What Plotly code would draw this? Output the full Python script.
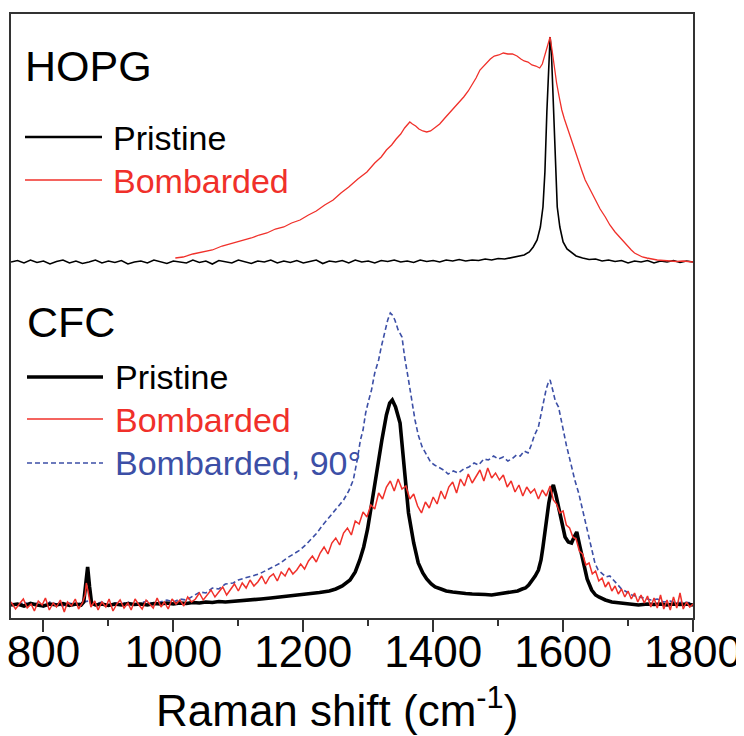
import plotly.graph_objects as go

# ---------------- data ----------------
# wavenumber (cm^-1), intensity (a.u., baseline ~0)
HOPG_PRISTINE = [
    (750, 0), (760, 1.5), (770, -1), (780, 2), (790, -0.5), (800, 1), (810, -2), (820, 0.5), (830, 2), (840, -1),
    (850, 1), (860, -1.5), (870, 0), (880, 2), (890, -1), (900, 1), (910, -0.5), (920, 1.5), (930, -2), (940, 0),
    (950, 1), (960, -1), (970, 2), (980, 0), (990, -1.5), (1000, 1), (1010, 0), (1020, -1), (1030, 2), (1040, -0.5),
    (1050, 1), (1060, -2), (1070, 1.5), (1080, 0), (1090, -1), (1100, 2), (1110, 0.5), (1120, -1.5), (1130, 1), (1140, 0),
    (1150, 2), (1160, -1), (1170, 1), (1180, -0.5), (1190, 1.5), (1200, -1), (1210, 0.5), (1220, 2), (1230, -1.5), (1240, 1),
    (1250, 0), (1260, 1.5), (1270, -1), (1280, 2), (1290, 0), (1300, 1), (1310, -1), (1320, 1.5), (1330, 0.5), (1340, 2),
    (1350, 0), (1360, 1), (1370, -0.5), (1380, 2), (1390, 0.5), (1400, 1.5), (1410, 0), (1420, 2), (1430, 1), (1440, 2.5),
    (1450, 1), (1460, 2), (1470, 1.5), (1480, 3), (1490, 2), (1500, 3.5), (1510, 3), (1520, 4.5), (1530, 5.5), (1540, 7),
    (1548, 10), (1554, 15), (1560, 22), (1565, 35), (1569, 55), (1572, 90), (1575, 150), (1578, 205), (1580, 225), (1582, 210),
    (1585, 160), (1588, 95), (1591, 55), (1595, 35), (1600, 20), (1606, 13), (1612, 10), (1620, 6), (1630, 4), (1640, 2.5),
    (1650, 3), (1660, 1), (1670, 2), (1680, 0.5), (1690, 1.5), (1700, -1), (1710, 1), (1720, 0), (1730, 1.5), (1740, -1),
    (1750, 1), (1760, 0), (1770, 1.5), (1780, -0.5), (1790, 1), (1800, 0),
]

HOPG_BOMBARDED = [
    (1003, 4), (1015, 5), (1030, 8), (1045, 10), (1060, 12), (1075, 16), (1092, 19), (1105, 21), (1120, 24), (1132, 27),
    (1144, 29), (1157, 33), (1170, 35), (1182, 39), (1195, 42), (1208, 47), (1220, 51), (1233, 57), (1246, 62), (1258, 69),
    (1270, 75), (1284, 83), (1298, 90), (1310, 99), (1320, 105), (1328, 112), (1336, 117), (1343, 123), (1350, 128), (1356, 134),
    (1360, 137), (1364, 140), (1368, 138), (1373, 136), (1378, 133), (1384, 131), (1390, 130), (1396, 131), (1402, 134), (1410, 138),
    (1418, 144), (1425, 149), (1433, 155), (1440, 160), (1447, 165), (1454, 171), (1460, 177), (1466, 184), (1472, 192), (1478, 196),
    (1483, 200), (1488, 203), (1494, 206), (1501, 207), (1508, 209), (1515, 208), (1522, 208), (1529, 206), (1535, 203), (1540, 201),
    (1546, 200), (1552, 197), (1558, 196), (1564, 194), (1568, 198), (1572, 207), (1576, 218), (1580, 225), (1583, 212), (1587, 192),
    (1590, 179), (1594, 165), (1598, 152), (1602, 143), (1606, 135), (1610, 127), (1614, 119), (1619, 110), (1624, 100), (1629, 91),
    (1634, 82), (1642, 72), (1650, 62), (1657, 53), (1665, 45), (1672, 37), (1680, 30), (1688, 24), (1695, 19), (1700, 15),
    (1705, 12), (1710, 9), (1716, 7), (1722, 5), (1729, 4), (1736, 3), (1745, 2), (1755, 1.5), (1765, 1), (1775, 0.5),
    (1785, 1), (1800, 0),
]

CFC_PRISTINE = [
    (750, 0), (760, 1), (770, -1), (780, 1.5), (790, 0), (800, -1), (810, 1), (820, 0), (830, 1.5), (840, -0.5),
    (850, 1), (858, 0), (862, 3), (865, 20), (868, 38), (871, 18), (874, 2), (880, 0), (890, 1), (900, -0.5),
    (910, 1), (920, 0), (930, 1.5), (940, 0.5), (950, 1), (960, 0), (970, 1.5), (980, 1), (990, 2), (1000, 1),
    (1010, 2), (1020, 1.5), (1030, 2.5), (1040, 2), (1050, 3), (1060, 2.5), (1070, 3.5), (1080, 3), (1092, 3.5), (1105, 4.5),
    (1120, 5), (1135, 6), (1150, 7), (1165, 8), (1180, 9), (1195, 10), (1210, 11), (1225, 12.5), (1240, 14), (1250, 16),
    (1260, 19), (1272, 25), (1280, 33), (1287, 45), (1293, 58), (1299, 76), (1305, 100), (1313, 135), (1321, 165), (1328, 190),
    (1333, 202), (1337, 205), (1342, 198), (1349, 182), (1355, 140), (1362, 92), (1370, 62), (1377, 42), (1384, 32), (1390, 26),
    (1397, 21), (1403, 18), (1412, 16), (1420, 14), (1430, 13), (1439, 12), (1450, 11.5), (1460, 11), (1470, 11), (1480, 10.5),
    (1490, 10), (1500, 11), (1511, 12), (1520, 13), (1530, 14), (1537, 16), (1542, 17), (1547, 20), (1552, 24), (1557, 29),
    (1562, 35), (1566, 45), (1569, 58), (1572, 75), (1575, 90), (1578, 102), (1582, 115), (1585, 120), (1589, 110), (1593, 98),
    (1598, 80), (1603, 68), (1608, 63), (1613, 62), (1617, 68), (1621, 73), (1626, 58), (1631, 42), (1637, 26), (1644, 15),
    (1650, 10), (1655, 8), (1665, 5), (1675, 3), (1690, 2), (1700, 1.5), (1716, 0), (1730, 1), (1740, 0.5), (1750, 1),
    (1760, 0), (1770, 1), (1780, 0.5), (1790, 1), (1800, 0),
]

CFC_BOMBARDED = [
    (750, 3), (757, -4), (764, 2), (769, 6), (775, -3), (781, 1), (786, -6), (792, 4), (798, 0), (803, 7),
    (809, -5), (815, 2), (820, -2), (826, 5), (832, -7), (837, 3), (843, -1), (849, 6), (854, -4), (860, 2),
    (864, 10), (866, 22), (869, 12), (873, -2), (879, 4), (884, -5), (890, 3), (896, -2), (901, 6), (907, -6),
    (913, 1), (918, 5), (924, -3), (930, 2), (935, -5), (941, 6), (947, 0), (952, -4), (958, 5), (964, 1),
    (969, -3), (975, 7), (981, -2), (986, 3), (992, -4), (998, 6), (1004, 1), (1010, 5), (1016, -1), (1022, 8),
    (1028, 3), (1034, 6), (1040, 12), (1046, 5), (1052, 10), (1058, 15), (1064, 8), (1070, 13), (1076, 18), (1082, 10),
    (1088, 16), (1094, 21), (1100, 14), (1106, 22), (1112, 17), (1118, 25), (1124, 19), (1130, 23), (1136, 29), (1142, 21),
    (1148, 28), (1154, 31), (1160, 24), (1166, 33), (1172, 29), (1178, 37), (1184, 31), (1190, 35), (1196, 41), (1202, 36),
    (1208, 44), (1214, 49), (1220, 43), (1226, 52), (1232, 58), (1238, 51), (1244, 62), (1250, 67), (1256, 60), (1262, 72),
    (1268, 77), (1274, 70), (1280, 84), (1286, 81), (1292, 93), (1298, 88), (1304, 100), (1310, 96), (1316, 112), (1322, 106),
    (1328, 118), (1334, 124), (1340, 114), (1346, 126), (1352, 116), (1358, 119), (1364, 106), (1370, 111), (1376, 99), (1382, 92),
    (1388, 103), (1394, 97), (1400, 108), (1406, 101), (1412, 114), (1418, 106), (1424, 118), (1430, 123), (1436, 112), (1442, 126),
    (1448, 119), (1454, 131), (1460, 122), (1466, 128), (1472, 135), (1478, 124), (1484, 137), (1490, 127), (1496, 132), (1502, 125),
    (1508, 130), (1514, 118), (1520, 124), (1526, 113), (1532, 120), (1538, 109), (1544, 118), (1550, 112), (1556, 116), (1562, 106),
    (1568, 115), (1574, 109), (1580, 119), (1585, 105), (1590, 101), (1595, 92), (1600, 94), (1605, 80), (1610, 77), (1615, 68),
    (1620, 66), (1625, 54), (1630, 51), (1635, 40), (1640, 42), (1645, 31), (1650, 34), (1655, 24), (1660, 27), (1665, 18),
    (1670, 23), (1675, 14), (1680, 19), (1685, 11), (1690, 16), (1695, 8), (1700, 14), (1705, 6), (1710, 12), (1715, 3),
    (1720, 10), (1725, 2), (1730, 9), (1735, -2), (1740, 7), (1745, -3), (1750, 10), (1755, -4), (1760, 5), (1765, -5),
    (1770, 8), (1775, -3), (1780, 12), (1785, -4), (1790, 3), (1795, -2), (1800, 1),
]

CFC_BOMBARDED_90 = [
    (750, 2), (760, -1), (770, 3), (780, 0), (790, 2), (800, -2), (810, 3), (820, 1), (830, -1), (840, 2),
    (850, 0), (860, 3), (870, 4), (880, 1), (890, 3), (900, -1), (910, 2), (920, 1), (930, 3), (940, 0),
    (950, 2), (960, 4), (970, 1), (980, 3), (990, 5), (1000, 3), (1010, 6), (1020, 5), (1030, 9), (1041, 13),
    (1050, 12), (1060, 17), (1070, 16), (1080, 21), (1092, 22), (1100, 25), (1110, 27), (1120, 29), (1132, 31), (1144, 35),
    (1155, 39), (1165, 42), (1175, 47), (1185, 51), (1195, 55), (1205, 61), (1213, 66), (1221, 72), (1230, 80), (1238, 86),
    (1246, 93), (1254, 99), (1262, 105), (1270, 114), (1277, 125), (1283, 145), (1288, 165), (1292, 175), (1296, 192), (1300, 203),
    (1305, 215), (1310, 232), (1316, 245), (1320, 258), (1325, 272), (1330, 285), (1334, 292), (1337, 290), (1341, 285), (1346, 275),
    (1352, 268), (1356, 248), (1362, 225), (1367, 203), (1372, 185), (1377, 170), (1383, 158), (1390, 150), (1396, 143), (1402, 140),
    (1408, 138), (1416, 135), (1423, 131), (1431, 134), (1439, 132), (1447, 136), (1455, 138), (1463, 142), (1470, 140), (1478, 146),
    (1485, 145), (1493, 149), (1500, 146), (1508, 148), (1515, 144), (1521, 146), (1528, 150), (1534, 149), (1540, 154), (1546, 152),
    (1551, 160), (1556, 170), (1562, 178), (1566, 192), (1570, 205), (1574, 216), (1577, 222), (1580, 225), (1584, 215), (1588, 204),
    (1593, 198), (1597, 185), (1601, 170), (1605, 160), (1608, 152), (1613, 138), (1618, 125), (1624, 112), (1629, 98), (1634, 85),
    (1639, 72), (1644, 58), (1649, 42), (1654, 35), (1660, 31), (1666, 28), (1672, 29), (1678, 25), (1684, 20), (1690, 16),
    (1698, 13), (1706, 10), (1716, 8), (1725, 7), (1735, 5), (1745, 6), (1755, 3), (1765, 4), (1775, 2), (1785, 3),
    (1800, 2),
]

X_TICKS = [800, 1000, 1200, 1400, 1600, 1800]
X_MINOR = [900, 1100, 1300, 1500, 1700]
X_RANGE = [750, 1800]
Y_RANGE = [-13, 591]
HOPG_OFFSET = 343          # vertical stacking offset of the HOPG spectra

# ---------------- styling ----------------
FONT = "Arial, Liberation Sans, Helvetica, sans-serif"
RED = "#f0302a"
BLUE = "#3c4fa6"
BLACK = "#000000"
FRAME = "#333333"

BODY = 8                        # default page margin around the plot div
W, H = 744 - BODY, 736 - BODY
# plot area in page pixels: x 11..693, y 14..618
PX0, PX1, PY0, PY1 = 11, 693, 14, 618
ML, MT = PX0 - BODY, PY0 - BODY
MR, MB = W - (PX1 - BODY), H - (PY1 - BODY)
PW, PH = PX1 - PX0, PY1 - PY0


def px(xp):
    return (xp - PX0) / PW


def py(yp):
    return (PY1 - yp) / PH


fig = go.Figure()


def add(series, color, width, dash="solid", offset=0):
    xs = [p[0] for p in series]
    ys = [p[1] + offset for p in series]
    fig.add_trace(go.Scatter(x=xs, y=ys, mode="lines",
                             line=dict(color=color, width=width, dash=dash),
                             showlegend=False, hoverinfo="skip"))


add(HOPG_PRISTINE, BLACK, 1.6, offset=HOPG_OFFSET)
add(HOPG_BOMBARDED, RED, 1.3, offset=HOPG_OFFSET)
add(CFC_BOMBARDED_90, BLUE, 1.6, dash="5px,3px")
add(CFC_PRISTINE, BLACK, 3.6)
add(CFC_BOMBARDED, RED, 1.5)

# legend samples
shapes = []
for x0, x1, yp, color, width, dash in [
    (25, 102, 137, BLACK, 2.6, "solid"),
    (25, 102, 180, RED, 1.3, "solid"),
    (27, 103, 377, BLACK, 3.6, "solid"),
    (27, 103, 419, RED, 1.5, "solid"),
    (27, 103, 463, BLUE, 1.6, "5px,3px"),
]:
    shapes.append(dict(type="line", xref="paper", yref="paper",
                       x0=px(x0), x1=px(x1), y0=py(yp), y1=py(yp),
                       line=dict(color=color, width=width, dash=dash)))

annotations = []
for text, xp, yp, size, color in [
    ("HOPG", 23, 66, 43, BLACK),
    ("Pristine", 111, 138, 34, BLACK),
    ("Bombarded", 111, 181, 34, RED),
    ("CFC", 25, 322, 43, BLACK),
    ("Pristine", 113, 377, 34, BLACK),
    ("Bombarded", 113, 420, 34, RED),
    ("Bombarded, 90°", 113, 463, 34, BLUE),
    ("Raman shift (cm<sup>-1</sup>)", 337, 707, 44, BLACK),
]:
    annotations.append(dict(text=text, xref="paper", yref="paper",
                            x=px(xp), y=py(yp),
                            xanchor="center" if text.startswith("Raman") else "left",
                            yanchor="middle",
                            showarrow=False, font=dict(family=FONT, size=size, color=color)))

fig.update_layout(
    width=W, height=H,
    margin=dict(l=ML, r=MR, t=MT, b=MB, pad=0, autoexpand=False),
    paper_bgcolor="white", plot_bgcolor="white",
    font=dict(family=FONT, color=BLACK),
    shapes=shapes, annotations=annotations,
    showlegend=False,
)
fig.update_xaxes(
    range=X_RANGE, tickvals=X_TICKS, ticktext=[str(v) for v in X_TICKS],
    ticks="outside", ticklen=12, tickwidth=2, tickcolor=FRAME,
    minor=dict(tickvals=X_MINOR, ticks="outside", ticklen=6, tickwidth=2, tickcolor=FRAME),
    showline=True, linewidth=2, linecolor=FRAME, mirror=True,
    showgrid=False, zeroline=False, automargin=False,
    ticklabelstandoff=-18, ticklabeloverflow="allow",
    tickfont=dict(family=FONT, size=44, color=BLACK),
)
fig.update_yaxes(
    range=Y_RANGE, showticklabels=False, ticks="",
    showline=True, linewidth=2, linecolor=FRAME, mirror=True,
    showgrid=False, zeroline=False, automargin=False,
)

fig.write_html("out.html")
